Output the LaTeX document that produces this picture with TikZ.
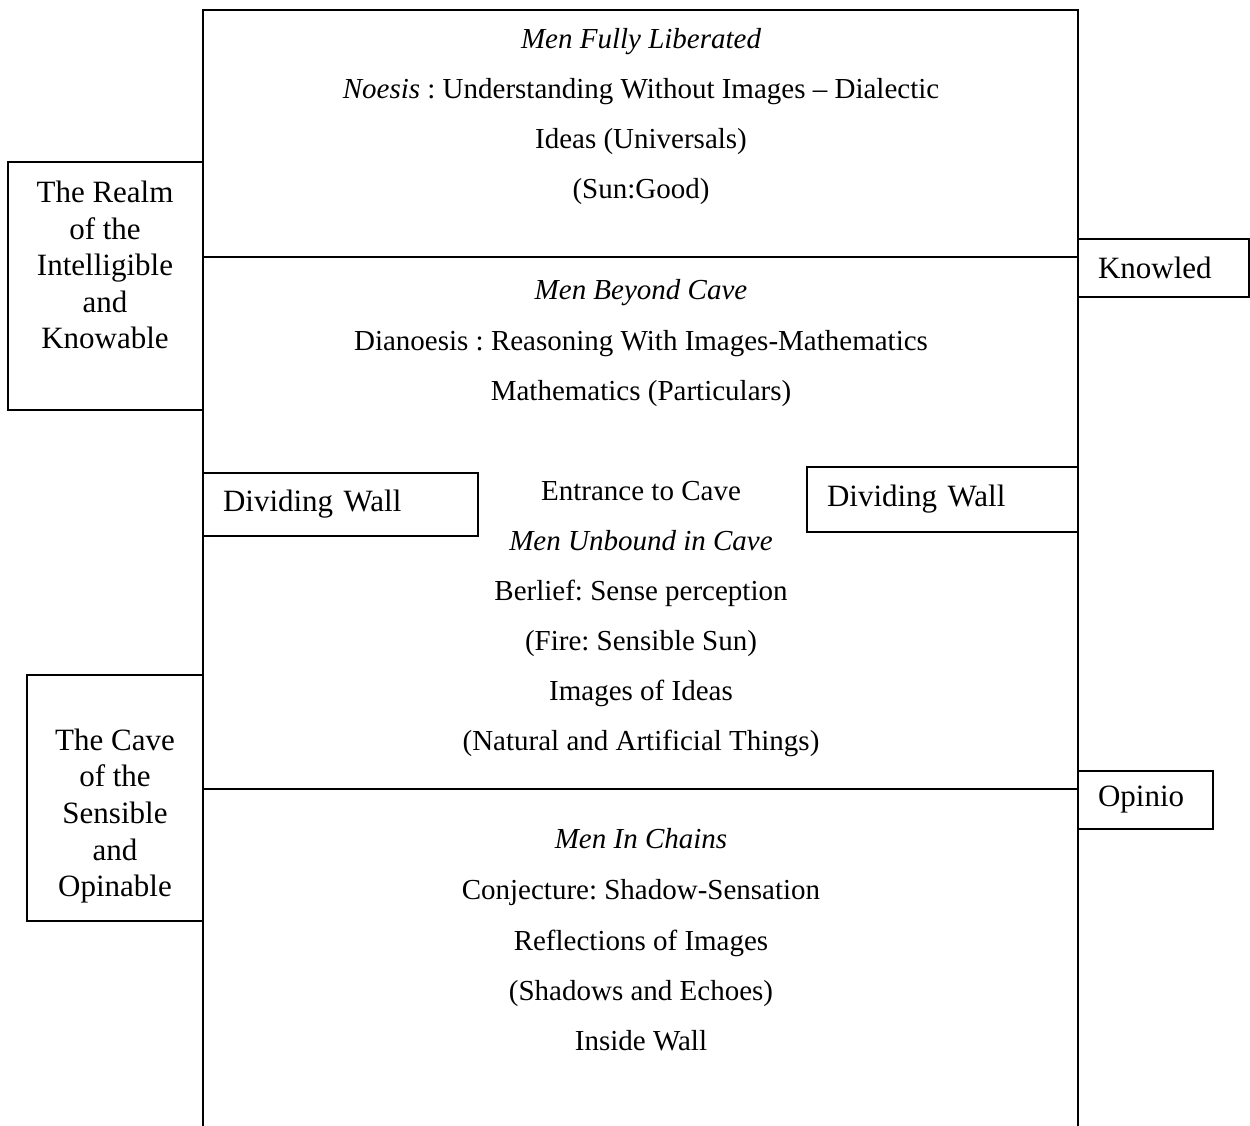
\documentclass[tikz,border=0pt]{standalone}
\usepackage{fontspec}
\setmainfont{Liberation Serif}
\frenchspacing
\usetikzlibrary{positioning}

\begin{document}
\begin{tikzpicture}[
    x=0.5pt, y=-0.5pt,
    every node/.style={font=\fontsize{14.5}{18}\selectfont},
    txt/.style={anchor=base, inner sep=0pt},
    sidebox/.style={draw, line width=0.6pt, inner sep=0pt},
    sidetxt/.style={align=center, inner sep=0pt,
                    font=\fontsize{15.5}{18.3}\selectfont},
    wall/.style={draw, line width=0.6pt, align=left, inner xsep=10pt,
                 inner ysep=0pt, font=\fontsize{15.5}{18.5}\selectfont},
    frame/.style={line width=0.6pt},
  ]
  \useasboundingbox (0,0) rectangle (1250,1126);

  % main column
  \draw[frame] (203,1126) -- (203,10) -- (1078,10) -- (1078,1126);
  \draw[frame] (203,257) -- (1078,257);
  \draw[frame] (203,789) -- (1078,789);

  % the Good
  \node[txt] (liberated) at (641,48) {\itshape Men Fully Liberated};
  \node[txt] (noesis) at (641,98) {\textit{Noesis} : Understanding Without Images – Dialectic};
  \node[txt] (ideas) at (641,148) {Ideas (Universals)};
  \node[txt] (sun) at (641,198) {(Sun:Good)};

  % beyond the cave
  \node[txt] (beyond) at (641,299) {\itshape Men Beyond Cave};
  \node[txt] (dianoesis) at (641,350) {Dianoesis : Reasoning With Images-Mathematics};
  \node[txt] (maths) at (641,400) {Mathematics (Particulars)};

  % inside the cave
  \node[txt] (entrance) at (641,500) {Entrance to Cave};
  \node[txt] (unbound) at (641,550) {\itshape Men Unbound in Cave};
  \node[txt] (belief) at (641,600) {Berlief: Sense perception};
  \node[txt] (fire) at (641,650) {(Fire: Sensible Sun)};
  \node[txt] (images) at (641,700) {Images of Ideas};
  \node[txt] (things) at (641,750) {(Natural and Artificial Things)};

  % the chains
  \node[txt] (chains) at (641,848) {\itshape Men In Chains};
  \node[txt] (conjecture) at (641,899) {Conjecture: Shadow-Sensation};
  \node[txt] (reflections) at (641,950) {Reflections of Images};
  \node[txt] (shadows) at (641,1000) {(Shadows and Echoes)};
  \node[txt] (inside) at (641,1050) {Inside Wall};

  % dividing walls
  \node[wall, text width=117.5pt, minimum height=31.5pt] (wallL) at (340.5,504.5) {Dividing Wall};
  \node[wall, text width=115.5pt, minimum height=32.5pt] (wallR) at (942.5,499.5) {Dividing Wall};

  % right-hand labels
  \node[wall, text width=65.5pt, minimum height=29pt] (knowledge) at (1163.5,268) {Knowled};
  \node[wall, text width=47.5pt, minimum height=29pt] (opinion) at (1145.5,800) {Opinio};

  % left-hand realms
  \node[sidebox, minimum width=97.5pt, minimum height=124pt] (realm) at (105.5,286) {};
  \node[sidetxt] (realmtxt) at (105,265) {The Realm\\of the\\Intelligible\\and\\Knowable};
  \node[sidebox, minimum width=88pt, minimum height=123pt] (cave) at (115,798) {};
  \node[sidetxt] (cavetxt) at (115,816) {The Cave\\of the\\Sensible\\and\\Opinable};
\end{tikzpicture}
\end{document}
